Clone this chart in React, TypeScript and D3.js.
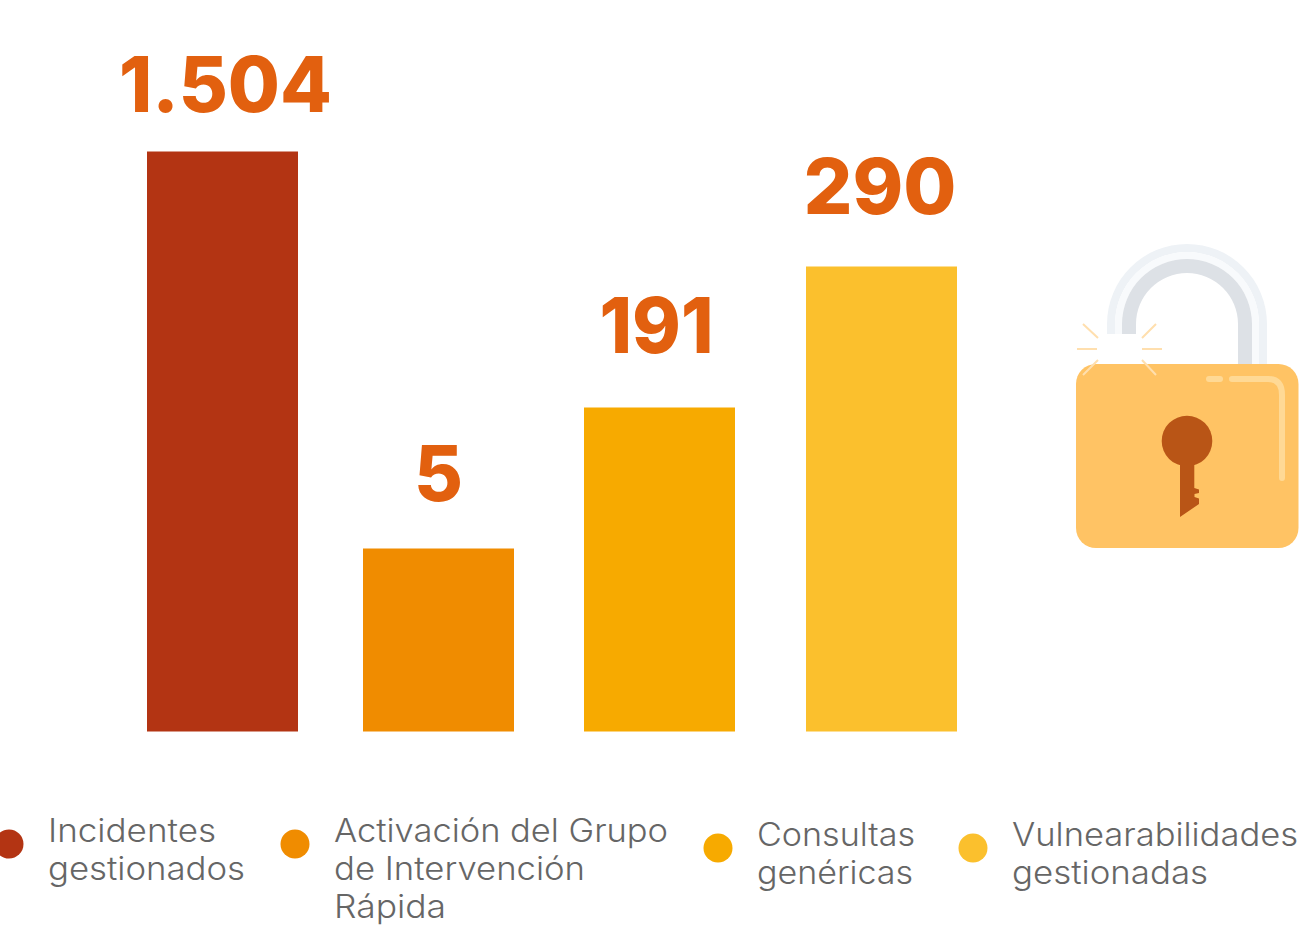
import React from "react";
import * as d3 from "d3";

const categories = ["Incidentes gestionados", "Activación del Grupo de Intervención Rápida", "Consultas genéricas", "Vulnearabilidades gestionadas"];
const values = [1504, 5, 191, 290];
const valueLabels = ["1.504", "5", "191", "290"];
const colors = ["#b33413", "#f08c00", "#f7aa00", "#fbc02d"];
// The original graphic's bars are not proportional: its axis is a stepped, monotone one.
const axisDomain = [5, 191, 290, 1504];
const axisRange = [548.5, 407.5, 266.5, 151.5];
const barLefts = [147, 363, 584, 806];
const labelCenters = [225.5, 438.5, 656.5, 880];
const labelBaselines = [112, 501, 353, 214];
const labelWidths = [213, 49, 114, 153];
const legendLines = [["Incidentes", "gestionados"], ["Activación del Grupo", "de Intervención", "Rápida"], ["Consultas", "genéricas"], ["Vulnearabilidades", "gestionadas"]];
const legendWidths = [[168, 197], [334, 251, 112], [158, 156], [286, 196]];
const legendX = [48, 334, 757, 1012];
const legendBaseline = [842, 842, 846, 846];
const legendDots = [[9, 844], [295, 844], [718, 848], [973, 848]];

const BASE = 731.5;
const BAR_W = 151;
const LEGEND_FONT = "Inter, 'Open Sans', sans-serif";

const y = d3.scaleLinear().domain(axisDomain).range(axisRange);
const x = d3.scaleOrdinal<string, number>().domain(categories).range(barLefts);

function Lock() {
  const cx = 1187, cy = 324;
  const shackle = (r0: number, r1: number, fill: string) => {
    const arc = d3.arc()({ innerRadius: r0, outerRadius: r1, startAngle: -Math.PI / 2, endAngle: Math.PI / 2 }) as string;
    return (
      <g fill={fill}>
        <path d={arc} transform={`translate(${cx},${cy})`} />
        <rect x={cx - r1} y={cy - 0.5} width={r1 - r0} height={10.5} />
        <rect x={cx + r0} y={cy - 0.5} width={r1 - r0} height={42} />
      </g>
    );
  };
  const spark = "#ffdfae";
  return (
    <g>
      {shackle(72, 80, "#eef2f6")}
      {shackle(65, 72, "#f8fafc")}
      {shackle(51, 65, "#dde1e6")}
      <rect x={1076} y={364} width={222.5} height={184} rx={20} fill="#ffc364" />
      <g stroke={spark} strokeWidth={2} fill="none">
        <path d="M1077 349H1097M1142 349H1162" />
        <path d="M1083 324L1098 338M1156 324L1142 338" />
        <path d="M1098 360L1083 375M1142 360L1156 375" />
      </g>
      <g stroke="#ffd995" strokeWidth={6} strokeLinecap="round" fill="none">
        <path d="M1209 379H1220" />
        <path d="M1232 379H1268Q1282 379 1282 395V478" />
      </g>
      <g fill="#b95516">
        <circle cx={1187} cy={441} r={25.3} />
        <path d="M1180 460H1194.3V488L1199 489.5V493L1194.5 494V497L1199 498.5V504L1180 517Z" />
      </g>
    </g>
  );
}

export default function App() {
  return (
    <svg width={1307} height={936} viewBox="0 0 1307 936" style={{ position: "absolute", left: 0, top: 0, background: "#fff" }}>
      {categories.map((c, i) => (
        <rect key={c} x={x(c)} y={y(values[i])} width={BAR_W} height={BASE - y(values[i])} fill={colors[i]} />
      ))}
      {valueLabels.map((t, i) => (
        <text key={t} x={labelCenters[i]} y={labelBaselines[i]} textAnchor="middle" fontFamily="Inter, sans-serif" fontWeight={800} fontSize={77} fill="#e2600f" textLength={labelWidths[i]} lengthAdjust="spacingAndGlyphs">{t}</text>
      ))}
      <Lock />
      {legendLines.map((lines, i) => (
        <g key={i}>
          <circle cx={legendDots[i][0]} cy={legendDots[i][1]} r={14.5} fill={colors[i]} />
          {lines.map((line, j) => (
            <text key={line} x={legendX[i]} y={legendBaseline[i] + j * 38} fontFamily={LEGEND_FONT} fontWeight={300} fontSize={32} fill="#666666" textLength={legendWidths[i][j]} lengthAdjust="spacingAndGlyphs">{line}</text>
          ))}
        </g>
      ))}
    </svg>
  );
}
